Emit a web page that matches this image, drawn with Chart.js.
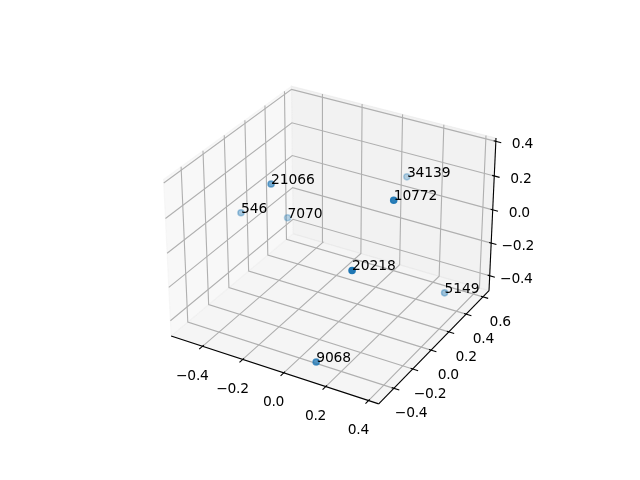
<!DOCTYPE html>
<html lang="en">

<head>
    <meta charset="UTF-8" />
    <title>3D Scatter</title>
    <script src="https://cdn.jsdelivr.net/npm/chart.js"></script>
    <style>
        body {
            background-color: #fff;
            margin: 0;
        }

        canvas {
            display: block;
        }
    </style>
</head>

<body>
    <canvas id="scatter3d" width="640" height="480"></canvas>

    <script>
        // values
        const labels = ['21066', '546', '7070', '34139', '10772', '20218', '5149', '9068'];
        const xValues = [-0.306, -0.499, -0.359, 0.047, 0.308, 0.262, 0.356, 0.113];
        const yValues = [-0.047, 0.026, 0.216, 0.627, -0.117, -0.429, 0.360, -0.468];
        const zValues = [0.241, -0.027, -0.101, 0.086, 0.385, 0.1315, -0.3755, -0.433];

        const xTicks = [-0.4, -0.2, 0.0, 0.2, 0.4];
        const yTicks = [-0.4, -0.2, 0.0, 0.2, 0.4, 0.6];
        const zTicks = [-0.4, -0.2, 0.0, 0.2, 0.4];

        const xLim = [-0.559, 0.447];
        const yLim = [-0.556, 0.673];
        const zLim = [-0.493, 0.419];

        // same camera as a default matplotlib 3d axes: elev 30, azim -60, dist 10
        const box = [1.1905, 1.1905, 0.8929];
        const dist = 10;
        const u = [0.8660, 0.5, 0];
        const v = [-0.25, 0.4330, 0.8660];
        const w = [0.4330, -0.75, 0.5];

        function dot(a, b) {
            return a[0] * b[0] + a[1] * b[1] + a[2] * b[2];
        }

        function project(x, y, z) {
            const rel = [
                ((x - xLim[0]) / (xLim[1] - xLim[0]) - 0.5) * box[0],
                ((y - yLim[0]) / (yLim[1] - yLim[0]) - 0.5) * box[1],
                ((z - zLim[0]) / (zLim[1] - zLim[0]) - 0.5) * box[2]
            ];
            const near = dot(rel, w);
            return { x: dot(rel, u) / (dist - near), y: dot(rel, v) / (dist - near), near: near };
        }

        function line(points, color, width, order) {
            return {
                data: points.map(p => project(p[0], p[1], p[2])),
                showLine: true,
                borderColor: color,
                borderWidth: width,
                pointRadius: 0,
                tension: 0,
                clip: false,
                order: order
            };
        }

        function pane(points, color) {
            const ds = line(points.concat([points[0]]), color, 1.11, 50);
            ds.fill = 'shape';
            ds.backgroundColor = color;
            return ds;
        }

        const [x0, x1] = xLim, [y0, y1] = yLim, [z0, z1] = zLim;
        const datasets = [];

        datasets.push(pane([[x0, y0, z0], [x0, y1, z0], [x0, y1, z1], [x0, y0, z1]], 'rgba(242,242,242,0.5)'));
        datasets.push(pane([[x0, y1, z0], [x1, y1, z0], [x1, y1, z1], [x0, y1, z1]], 'rgba(230,230,230,0.5)'));
        datasets.push(pane([[x0, y0, z0], [x1, y0, z0], [x1, y1, z0], [x0, y1, z0]], 'rgba(236,236,236,0.5)'));

        const gridColor = '#b0b0b0';
        xTicks.forEach(t => datasets.push(line([[t, y0, z0], [t, y1, z0], [t, y1, z1]], gridColor, 1.11, 40)));
        yTicks.forEach(t => datasets.push(line([[x1, t, z0], [x0, t, z0], [x0, t, z1]], gridColor, 1.11, 40)));
        zTicks.forEach(t => datasets.push(line([[x0, y0, t], [x0, y1, t], [x1, y1, t]], gridColor, 1.11, 40)));

        datasets.push(line([[x0, y0, z0], [x1, y0, z0]], '#000', 1.11, 30));
        datasets.push(line([[x1, y0, z0], [x1, y1, z0]], '#000', 1.11, 30));
        datasets.push(line([[x1, y1, z0], [x1, y1, z1]], '#000', 1.11, 30));

        // tick marks stick out past the axis line more than they run inward
        const dx = (x1 - x0) / 12, dy = (y1 - y0) / 12;
        const tickIn = 0.12, tickOut = 0.3;
        xTicks.forEach(t => datasets.push(line([[t, y0 - tickOut * dy, z0], [t, y0 + tickIn * dy, z0]], '#000', 1.11, 30)));
        yTicks.forEach(t => datasets.push(line([[x1 + tickOut * dx, t, z0], [x1 - tickIn * dx, t, z0]], '#000', 1.11, 30)));
        zTicks.forEach(t => datasets.push(line([[x1 + tickOut * dx, y1, t], [x1 - tickIn * dx, y1, t]], '#000', 1.11, 30)));

        // depth shading: nearest point is opaque, farthest is 0.3
        const marks = labels.map((_, i) => project(xValues[i], yValues[i], zValues[i]));
        const nearest = Math.max(...marks.map(m => m.near));
        const farthest = Math.min(...marks.map(m => m.near));
        const markColors = marks.map(m => {
            const alpha = 1 - 0.7 * (nearest - m.near) / (nearest - farthest);
            return `rgba(31,119,180,${alpha.toFixed(3)})`;
        });

        datasets.push({
            data: marks,
            pointRadius: 3.05,
            pointBorderWidth: 1.5,
            pointBackgroundColor: markColors,
            pointBorderColor: markColors,
            clip: false,
            order: 10
        });

        function tickText(t) {
            return t.toFixed(1).replace('-', '\u2212');
        }

        const textPlugin = {
            id: 'textPlugin',
            afterDatasetsDraw(chart) {
                const ctx = chart.ctx;
                const sx = chart.scales.x, sy = chart.scales.y;
                ctx.save();
                ctx.fillStyle = '#000';
                ctx.font = '13.89px "DejaVu Sans"';
                ctx.letterSpacing = '-0.12px';

                ctx.textAlign = 'left';
                ctx.textBaseline = 'alphabetic';
                marks.forEach((m, i) => {
                    ctx.fillText(labels[i], sx.getPixelForValue(m.x), sy.getPixelForValue(m.y));
                });

                ctx.letterSpacing = '-0.3px';
                ctx.textAlign = 'center';
                ctx.textBaseline = 'middle';
                const tickLabel = (t, p, ox, oy) => {
                    ctx.fillText(tickText(t), sx.getPixelForValue(p.x) + ox, sy.getPixelForValue(p.y) + oy);
                };
                xTicks.forEach(t => tickLabel(t, project(t, y0, z0), -10.2, 30));
                yTicks.forEach(t => tickLabel(t, project(x1, t, z0), 17.2, 25.5));
                zTicks.forEach(t => tickLabel(t, project(x1, y1, t), 26.6, 3.4));
                ctx.restore();
            }
        };

        new Chart(document.getElementById('scatter3d'), {
            type: 'scatter',
            data: { datasets: datasets },
            options: {
                responsive: false,
                animation: false,
                devicePixelRatio: 1,
                layout: { padding: { left: 143.2, right: 127.2, top: 57.6, bottom: 52.8 } },
                scales: {
                    x: { display: false, min: -0.095, max: 0.09 },
                    y: { display: false, min: -0.095, max: 0.09 }
                },
                plugins: {
                    legend: { display: false },
                    tooltip: { enabled: false }
                }
            },
            plugins: [textPlugin]
        });
    </script>
</body>

</html>
